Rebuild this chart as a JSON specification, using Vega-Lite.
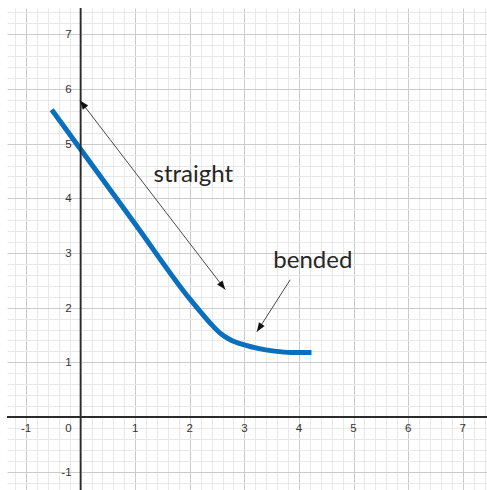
{
  "$schema": "https://vega.github.io/schema/vega-lite/v6.json",
  "width": 480,
  "height": 482,
  "autosize": {"type": "none"},
  "padding": {"left": 7, "top": 8, "right": 0, "bottom": 0},
  "background": "white",
  "config": {"view": {"stroke": null}},
  "datasets": {
    "curve": [
      {"x": -0.53, "y": 5.62},
      {"x": 1.0, "y": 3.53},
      {"x": 2.0, "y": 2.16},
      {"x": 2.2, "y": 1.92},
      {"x": 2.4, "y": 1.69},
      {"x": 2.55, "y": 1.54},
      {"x": 2.75, "y": 1.41},
      {"x": 3.0, "y": 1.32},
      {"x": 3.25, "y": 1.255},
      {"x": 3.55, "y": 1.205},
      {"x": 3.85, "y": 1.18},
      {"x": 4.23, "y": 1.18}
    ],
    "arrows": [
      {"arrow": "straight", "x1": -0.01, "y1": 5.79, "x2": 2.65, "y2": 2.33},
      {"arrow": "bended", "x1": 3.84, "y1": 2.51, "x2": 3.23, "y2": 1.56}
    ],
    "notes": [
      {"label": "straight", "x": 2.064, "y": 4.3},
      {"label": "bended", "x": 4.254, "y": 2.72}
    ],
    "axes": [
      {"origin": 0}
    ],
    "xticks": [
      {"v": -1, "t": "-1"}, {"v": 1, "t": "1"}, {"v": 2, "t": "2"}, {"v": 3, "t": "3"},
      {"v": 4, "t": "4"}, {"v": 5, "t": "5"}, {"v": 6, "t": "6"}, {"v": 7, "t": "7"}
    ],
    "yticks": [
      {"v": -1, "t": "-1"}, {"v": 1, "t": "1"}, {"v": 2, "t": "2"}, {"v": 3, "t": "3"},
      {"v": 4, "t": "4"}, {"v": 5, "t": "5"}, {"v": 6, "t": "6"}, {"v": 7, "t": "7"}
    ]
  },
  "layer": [
    {
      "data": {"name": "curve"},
      "mark": {"type": "line", "color": "#0a70bd", "strokeWidth": 5, "interpolate": "monotone"},
      "encoding": {
        "x": {"field": "x", "type": "quantitative",
          "scale": {"domain": [-1.348, 7.445], "nice": false, "zero": false},
          "axis": {"orient": "top", "values": [-1.2,-0.8,-0.6,-0.4,-0.2,0.2,0.4,0.6,0.8,1.2,1.4,1.6,1.8,2.2,2.4,2.6,2.8,3.2,3.4,3.6,3.8,4.2,4.4,4.6,4.8,5.2,5.4,5.6,5.8,6.2,6.4,6.6,6.8,7.2,7.4],
            "grid": true, "gridColor": "#e8e8e8", "gridWidth": 1, "labels": false, "ticks": false, "domain": false, "title": null}},
        "y": {"field": "y", "type": "quantitative",
          "scale": {"domain": [-1.335, 7.481], "nice": false, "zero": false},
          "axis": {"orient": "right", "values": [-1.2,-0.8,-0.6,-0.4,-0.2,0.2,0.4,0.6,0.8,1.2,1.4,1.6,1.8,2.2,2.4,2.6,2.8,3.2,3.4,3.6,3.8,4.2,4.4,4.6,4.8,5.2,5.4,5.6,5.8,6.2,6.4,6.6,6.8,7.2,7.4],
            "grid": true, "gridColor": "#e8e8e8", "gridWidth": 1, "labels": false, "ticks": false, "domain": false, "title": null}}
      }
    },
    {
      "data": {"name": "arrows"},
      "mark": {"type": "rule", "color": "#333333", "strokeWidth": 0.9},
      "encoding": {
        "x": {"field": "x1", "type": "quantitative",
          "scale": {"domain": [-1.348, 7.445], "nice": false, "zero": false},
          "axis": {"orient": "bottom", "values": [-1,0,1,2,3,4,5,6,7],
            "grid": true, "gridColor": "#cbcbcb", "gridWidth": 1, "labels": false, "ticks": false, "domain": false, "title": null}},
        "y": {"field": "y1", "type": "quantitative",
          "scale": {"domain": [-1.335, 7.481], "nice": false, "zero": false},
          "axis": {"orient": "left", "values": [-1,0,1,2,3,4,5,6,7],
            "grid": true, "gridColor": "#cbcbcb", "gridWidth": 1, "labels": false, "ticks": false, "domain": false, "title": null}},
        "x2": {"field": "x2"},
        "y2": {"field": "y2"}
      }
    },
    {
      "data": {"name": "axes"},
      "mark": {"type": "rule", "color": "#2b2b2b", "strokeWidth": 1.8},
      "encoding": {
        "x": {"field": "origin", "type": "quantitative", "scale": {"domain": [-1.348, 7.445], "nice": false, "zero": false}, "axis": null}
      }
    },
    {
      "data": {"name": "axes"},
      "mark": {"type": "rule", "color": "#2b2b2b", "strokeWidth": 1.8},
      "encoding": {
        "y": {"field": "origin", "type": "quantitative", "scale": {"domain": [-1.335, 7.481], "nice": false, "zero": false}, "axis": null}
      }
    },
    {
      "data": {"name": "arrows"},
      "transform": [{"filter": "datum.arrow === 'straight'"}],
      "mark": {"type": "point", "shape": "M0,0L-0.75,2L0.75,2Z", "size": 81, "filled": true, "color": "#111111", "opacity": 1, "angle": 322.6},
      "encoding": {
        "x": {"field": "x1", "type": "quantitative", "scale": {"domain": [-1.348, 7.445], "nice": false, "zero": false}, "axis": null},
        "y": {"field": "y1", "type": "quantitative", "scale": {"domain": [-1.335, 7.481], "nice": false, "zero": false}, "axis": null}
      }
    },
    {
      "data": {"name": "arrows"},
      "transform": [{"filter": "datum.arrow === 'straight'"}],
      "mark": {"type": "point", "shape": "M0,0L-0.75,2L0.75,2Z", "size": 81, "filled": true, "color": "#111111", "opacity": 1, "angle": 142.6},
      "encoding": {
        "x": {"field": "x2", "type": "quantitative", "scale": {"domain": [-1.348, 7.445], "nice": false, "zero": false}, "axis": null},
        "y": {"field": "y2", "type": "quantitative", "scale": {"domain": [-1.335, 7.481], "nice": false, "zero": false}, "axis": null}
      }
    },
    {
      "data": {"name": "arrows"},
      "transform": [{"filter": "datum.arrow === 'bended'"}],
      "mark": {"type": "point", "shape": "M0,0L-0.75,2L0.75,2Z", "size": 81, "filled": true, "color": "#111111", "opacity": 1, "angle": 212.8},
      "encoding": {
        "x": {"field": "x2", "type": "quantitative", "scale": {"domain": [-1.348, 7.445], "nice": false, "zero": false}, "axis": null},
        "y": {"field": "y2", "type": "quantitative", "scale": {"domain": [-1.335, 7.481], "nice": false, "zero": false}, "axis": null}
      }
    },
    {
      "data": {"name": "notes"},
      "mark": {"type": "text", "font": "Lato", "fontSize": 24, "color": "#262626", "align": "center", "baseline": "alphabetic"},
      "encoding": {
        "x": {"field": "x", "type": "quantitative", "scale": {"domain": [-1.348, 7.445], "nice": false, "zero": false}, "axis": null},
        "y": {"field": "y", "type": "quantitative", "scale": {"domain": [-1.335, 7.481], "nice": false, "zero": false}, "axis": null},
        "text": {"field": "label"}
      }
    },
    {
      "data": {"name": "xticks"},
      "mark": {"type": "text", "font": "Liberation Sans", "fontSize": 11.5, "color": "#333333", "align": "center", "baseline": "middle", "dy": 12},
      "encoding": {
        "x": {"field": "v", "type": "quantitative", "scale": {"domain": [-1.348, 7.445], "nice": false, "zero": false}, "axis": null},
        "y": {"datum": 0, "type": "quantitative", "scale": {"domain": [-1.335, 7.481], "nice": false, "zero": false}, "axis": null},
        "text": {"field": "t"}
      }
    },
    {
      "data": {"name": "yticks"},
      "mark": {"type": "text", "font": "Liberation Sans", "fontSize": 11.5, "color": "#333333", "align": "right", "baseline": "middle", "dx": -9, "dy": 1},
      "encoding": {
        "x": {"datum": 0, "type": "quantitative", "scale": {"domain": [-1.348, 7.445], "nice": false, "zero": false}, "axis": null},
        "y": {"field": "v", "type": "quantitative", "scale": {"domain": [-1.335, 7.481], "nice": false, "zero": false}, "axis": null},
        "text": {"field": "t"}
      }
    },
    {
      "data": {"values": [{"t": "0"}]},
      "mark": {"type": "text", "font": "Liberation Sans", "fontSize": 11.5, "color": "#333333", "align": "right", "baseline": "middle", "dx": -9, "dy": 12},
      "encoding": {
        "x": {"datum": 0, "type": "quantitative", "scale": {"domain": [-1.348, 7.445], "nice": false, "zero": false}, "axis": null},
        "y": {"datum": 0, "type": "quantitative", "scale": {"domain": [-1.335, 7.481], "nice": false, "zero": false}, "axis": null},
        "text": {"field": "t"}
      }
    }
  ],
  "resolve": {"axis": {"x": "independent", "y": "independent"}}
}
